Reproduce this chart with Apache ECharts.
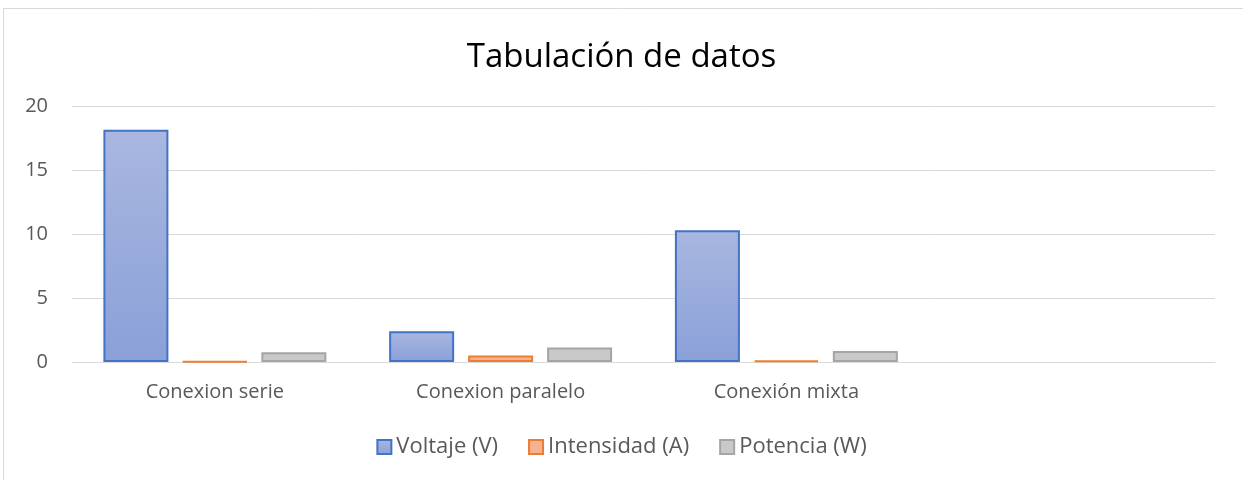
<!DOCTYPE html>
<html>
<head>
<meta charset="utf-8">
<script src="https://cdn.jsdelivr.net/npm/echarts@6/dist/echarts.min.js"></script>
<style>
  html, body { margin: 0; padding: 0; background: #fff; }
  #chart { width: 1243px; height: 480px; }
</style>
</head>
<body>
<div id="chart"></div>
<script>
// datos
const categorias = ['Conexion serie', 'Conexion paralelo', 'Conexión mixta', '']
const voltaje = [18.15, 2.4, 10.3, null]
const intensidad = [0.05, 0.5, 0.12, null]
const potencia = [0.76, 1.13, 0.86, null]
const ticksY = { min: 0, max: 20, interval: 5 }

const chart = echarts.init(document.getElementById('chart'))

const option = {
  backgroundColor: '#fff',
  textStyle: { fontFamily: 'Open Sans' },
  graphic: [{
    type: 'rect',
    shape: { x: 3.5, y: 8.5, width: 1250, height: 480 },
    style: { fill: 'none', stroke: '#d9d9d9', lineWidth: 1 },
    silent: true
  }],
  title: {
    text: 'Tabulación de datos',
    left: 'center',
    top: 36,
    textStyle: { fontSize: 33, fontWeight: 'normal', color: '#000', fontFamily: 'Open Sans' }
  },
  legend: {
    bottom: 17,
    left: 'center',
    itemWidth: 14,
    itemHeight: 14,
    itemGap: 30,
    icon: 'rect',
    textStyle: { fontSize: 22, color: '#595959' },
    data: ['Voltaje (V)', 'Intensidad (A)', 'Potencia (W)']
  },
  grid: { left: 72, right: 28, top: 106, bottom: 118 },
  xAxis: {
    type: 'category',
    data: categorias,
    axisLine: { lineStyle: { color: '#d9d9d9', width: 1 } },
    axisTick: { show: false },
    axisLabel: { fontSize: 20, color: '#595959', margin: 20 }
  },
  yAxis: {
    type: 'value',
    min: ticksY.min,
    max: ticksY.max,
    interval: ticksY.interval,
    axisLine: { show: false },
    axisTick: { show: false },
    axisLabel: { fontSize: 20, color: '#595959', margin: 24 },
    splitLine: { lineStyle: { color: '#d9d9d9', width: 1 } }
  },
  series: [
    {
      name: 'Voltaje (V)',
      type: 'bar',
      data: voltaje,
      barWidth: 65,
      barGap: '21.5%',
      itemStyle: {
        color: new echarts.graphic.LinearGradient(0, 0, 0, 1, [
          { offset: 0, color: '#a9b7e0' },
          { offset: 1, color: '#8aa0d8' }
        ]),
        borderColor: '#4472c4',
        borderWidth: 2
      }
    },
    {
      name: 'Intensidad (A)',
      type: 'bar',
      data: intensidad,
      barWidth: 65,
      itemStyle: {
        color: '#f7b28f',
        borderColor: '#ed7d31',
        borderWidth: 2
      }
    },
    {
      name: 'Potencia (W)',
      type: 'bar',
      data: potencia,
      barWidth: 65,
      itemStyle: {
        color: '#c9c9c9',
        borderColor: '#a5a5a5',
        borderWidth: 2
      }
    }
  ]
}

chart.setOption(option)
</script>
</body>
</html>
